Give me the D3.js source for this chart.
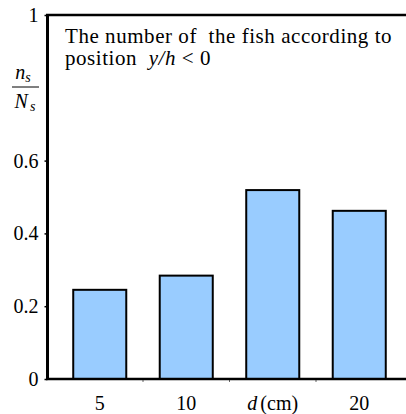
<!DOCTYPE html>
<html><head><meta charset="utf-8">
<script src="https://cdn.jsdelivr.net/npm/d3@7"></script>
<style>
html,body{margin:0;padding:0;background:#fff;}
svg{display:block;}
</style></head>
<body>
<svg id="chart" width="406" height="414"></svg>
<script>
const categories = ["5", "10", "15", "20"];
const tickLabels = ["5", "10", "d(cm)", "20"];
const values = [0.245, 0.284, 0.519, 0.462];
const yTicks = [0, 0.2, 0.4, 0.6, 1];
const yTickLabels = ["0", "0.2", "0.4", "0.6", "1"];

const FONT = "Liberation Serif, Times New Roman, Liberation Sans, serif";
const svg = d3.select("#chart");
const mLeft = 47.5, mRight = 406, mTop = 15, mBottom = 379;

const y = d3.scaleLinear().domain([0, 1]).range([mBottom, mTop]);
const x = d3.scaleBand().domain(categories).range([56.5, 402.5])
  .paddingInner(0.387).paddingOuter(0.1935);

svg.append("g").selectAll("rect").data(values).join("rect")
  .attr("x", (d, i) => x(categories[i]))
  .attr("y", d => y(d))
  .attr("width", x.bandwidth())
  .attr("height", d => y(0) - y(d))
  .attr("fill", "#99ccff")
  .attr("stroke", "#000")
  .attr("stroke-width", 2);

const step = x.step();
svg.append("g").selectAll("line").data(categories.slice(1)).join("line")
  .attr("x1", d => x(d) - (step - x.bandwidth()) / 2)
  .attr("x2", d => x(d) - (step - x.bandwidth()) / 2)
  .attr("y1", mBottom).attr("y2", mBottom + 3)
  .attr("stroke", "#666").attr("stroke-width", 1);

svg.append("line").attr("x1", mLeft - 1.5).attr("x2", mRight)
  .attr("y1", mBottom).attr("y2", mBottom)
  .attr("stroke", "#000").attr("stroke-width", 2.5);
svg.append("line").attr("x1", mLeft - 1.5).attr("x2", mRight)
  .attr("y1", mTop).attr("y2", mTop)
  .attr("stroke", "#000").attr("stroke-width", 2.5);

const yAxis = d3.axisLeft(y).tickValues(yTicks).tickSize(3).tickPadding(6)
  .tickFormat((d, i) => yTickLabels[i]);
const gy = svg.append("g").attr("transform", `translate(${mLeft},0)`).call(yAxis);
gy.attr("font-family", FONT);
gy.select(".domain").remove();
gy.selectAll(".tick line").attr("stroke", "#000").attr("stroke-width", 1.5);
gy.selectAll(".tick text").attr("font-size", 20).attr("fill", "#000").attr("font-family", FONT);
svg.append("line").attr("x1", mLeft).attr("x2", mLeft)
  .attr("y1", mTop - 1).attr("y2", mBottom + 1)
  .attr("stroke", "#000").attr("stroke-width", 3);

const xl = svg.append("g").selectAll("text").data(tickLabels).join("text")
  .attr("x", (d, i) => x(categories[i]) + x.bandwidth() / 2)
  .attr("y", 410)
  .attr("text-anchor", "middle")
  .attr("font-family", FONT)
  .attr("font-size", 20);
xl.each(function(d) {
  const t = d3.select(this);
  if (d.startsWith("d")) {
    t.append("tspan").attr("font-style", "italic").text("d");
    t.append("tspan").attr("dx", 3).text(d.slice(1));
  } else t.text(d);
});

const fr = svg.append("g").attr("font-style", "italic").attr("font-size", 20).attr("font-family", FONT);
const t1 = fr.append("text").attr("x", 23).attr("y", 79).attr("text-anchor", "middle");
t1.append("tspan").text("n");
t1.append("tspan").attr("font-size", 14).attr("dy", 3).text("s");
svg.append("line").attr("x1", 12).attr("x2", 39).attr("y1", 87).attr("y2", 87)
  .attr("stroke", "#000").attr("stroke-width", 1);
const t2 = fr.append("text").attr("x", 25).attr("y", 108).attr("text-anchor", "middle");
t2.append("tspan").text("N");
t2.append("tspan").attr("font-size", 14).attr("dy", 3).attr("dx", 2).text("s");

const ann = svg.append("g").attr("font-size", 21).attr("font-family", FONT)
  .attr("letter-spacing", 0.55);
ann.append("text").attr("x", 65).attr("y", 43).attr("xml:space", "preserve")
  .text("The number of  the fish according to");
const a2 = ann.append("text").attr("x", 65).attr("y", 65).attr("xml:space", "preserve");
a2.append("tspan").text("position  ");
a2.append("tspan").attr("font-style", "italic").text("y/h");
a2.append("tspan").text(" < 0");
</script>
</body></html>
